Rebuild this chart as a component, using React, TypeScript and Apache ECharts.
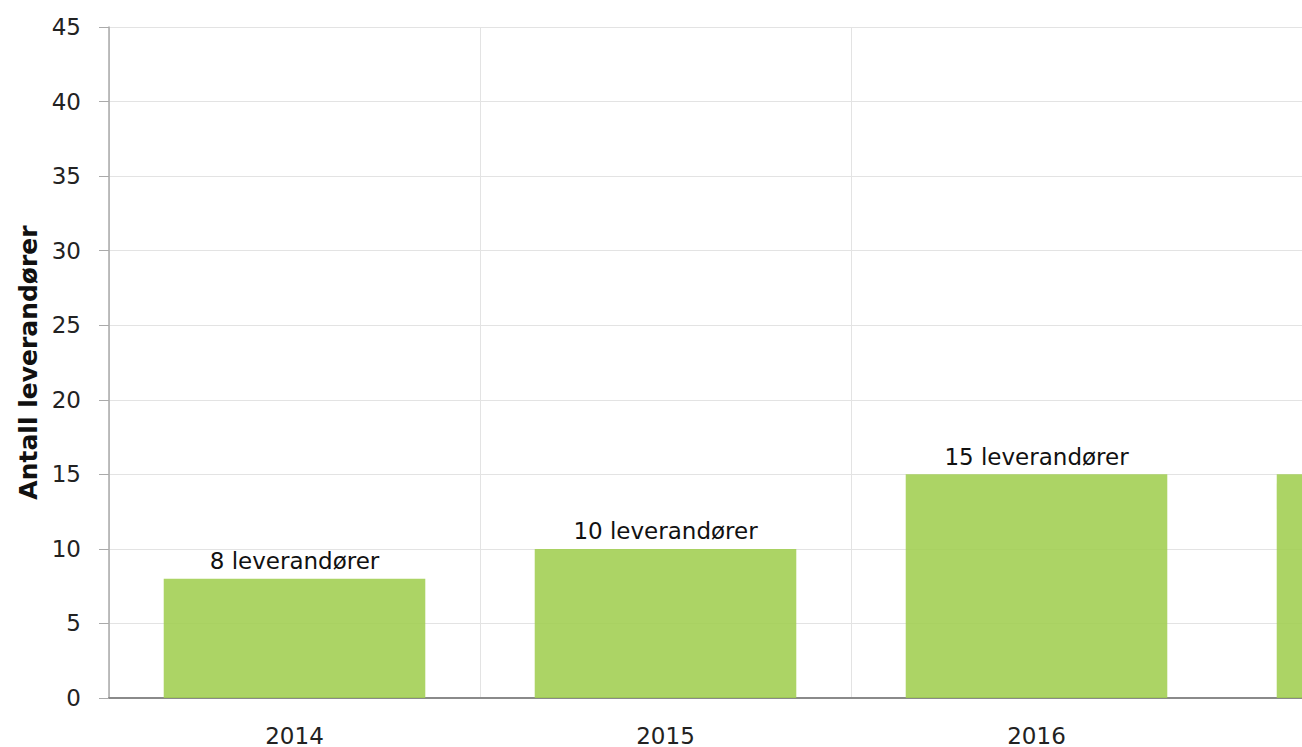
import React, { useEffect, useRef } from "react";
import * as echarts from "echarts";

const categories = ["2014", "2015", "2016", "2017"];
const values = [8, 10, 15, 15];
const yTitle = "Antall leverandører";
const labelSuffix = " leverandører";
const visibleCount = 3;

export default function App() {
  const ref = useRef<HTMLDivElement>(null);
  useEffect(() => {
    if (!ref.current) return;
    const chart = echarts.init(ref.current, null, { renderer: "svg" });
    const font = "DejaVu Sans, Verdana, sans-serif";
    chart.setOption({
      animation: false,
      textStyle: { fontFamily: font },
      grid: { left: 109, top: 27, bottom: 49, right: 57, containLabel: false, outerBoundsMode: "none" },
      xAxis: {
        type: "category",
        data: categories,
        boundaryGap: true,
        axisLine: { lineStyle: { color: "#8a8a8a", width: 2 } },
        axisTick: { alignWithLabel: true, length: 8, lineStyle: { color: "#bbbbbb" } },
        axisLabel: {
          color: "#222",
          fontSize: 23,
          margin: 26,
          fontFamily: font,
          interval: (i: number) => i < visibleCount,
        },
        splitLine: { show: true, lineStyle: { color: "#e3e3e3", width: 1 } },
      },
      yAxis: {
        type: "value",
        min: 0,
        max: 45,
        interval: 5,
        name: yTitle,
        nameLocation: "middle",
        nameGap: 68,
        nameTextStyle: { color: "#111", fontSize: 25, fontWeight: "bold", fontFamily: font },
        axisLine: { show: true, lineStyle: { color: "#aaaaaa", width: 1.5 } },
        axisTick: { show: true, length: 10, lineStyle: { color: "#aaaaaa" } },
        axisLabel: { color: "#222", fontSize: 23, margin: 28, fontFamily: font },
        splitLine: { show: true, lineStyle: { color: "#e3e3e3", width: 1 } },
      },
      series: [
        {
          type: "bar",
          data: values.map((v, i) => ({
            value: v,
            label: { show: i < visibleCount },
          })),
          barWidth: "70.5%",
          itemStyle: { color: "rgba(160,206,80,0.88)" },
          label: {
            show: true,
            position: "top",
            distance: 6,
            color: "#111",
            fontSize: 23,
            fontFamily: font,
            formatter: (p: any) => p.value + labelSuffix,
          },
        },
      ],
    });
    return () => chart.dispose();
  }, []);
  return (
    <div style={{ position: "fixed", left: 0, top: 0, width: 1302, height: 747, overflow: "hidden", background: "#fff" }}>
      <div ref={ref} style={{ width: 1650, height: 747 }} />
    </div>
  );
}
